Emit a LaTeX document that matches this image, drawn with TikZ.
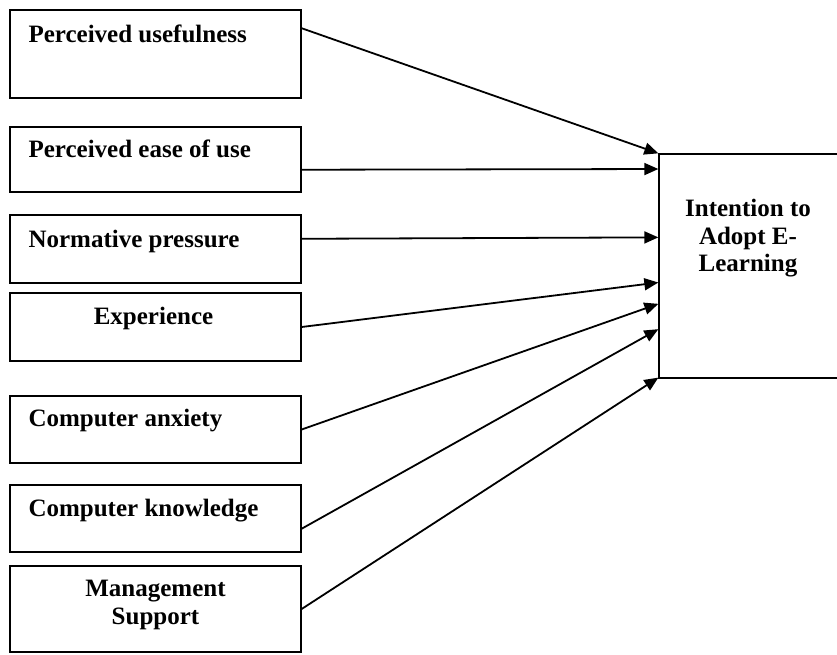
\documentclass[tikz,border=0pt]{standalone}
\usepackage{fontspec}
\setmainfont{Liberation Serif}
\usetikzlibrary{arrows.meta}

\begin{document}
\begin{tikzpicture}[x=1pt,y=-1pt,
    factor/.style ={rectangle, draw, line width=1.3pt, minimum width=291pt, inner sep=0pt},
    caption/.style ={inner sep=0pt, font=\fontsize{25}{27.5}\selectfont\bfseries, align=center},
    link/.style ={line width=1.8pt, -{Triangle[length=14pt,width=12pt]}}]
   \useasboundingbox (0,0) rectangle (837,654);
   \node[factor, minimum height=88pt] (PU) [label={[caption, anchor=base west, xshift=19pt, yshift=-33pt]north west:Perceived usefulness}] at (155.5,54) {};
   \node[factor, minimum height=65pt] (PEOU) [label={[caption, anchor=base west, xshift=19pt, yshift=-31pt]north west:Perceived ease of use}] at (155.5,159.5) {};
   \node[factor, minimum height=68pt] (NP) [label={[caption, anchor=base west, xshift=19pt, yshift=-33pt]north west:Normative pressure}] at (155.5,249) {};
   \node[factor, minimum height=68pt] (EXP) [label={[caption, anchor=base, xshift=-2pt, yshift=-32pt]north:Experience}] at (155.5,327) {};
   \node[factor, minimum height=67pt] (CA) [label={[caption, anchor=base west, xshift=19pt, yshift=-31pt]north west:Computer anxiety}] at (155.5,429.5) {};
   \node[factor, minimum height=67pt] (CK) [label={[caption, anchor=base west, xshift=19pt, yshift=-32pt]north west:Computer knowledge}] at (155.5,518.5) {};
   \node[factor, minimum height=86pt] (MS) [label={[caption, anchor=north, yshift=-15pt]north:Management\\Support}] at (155.5,609) {};
   \node[factor, minimum width=186pt, minimum height=224pt] (IT) [label={[caption, anchor=north, xshift=-4pt, yshift=-46pt]north:Intention to\\Adopt E-\\Learning}] at (752,266) {};
   \draw[link] (PU.10) to (IT.north west);
   \draw[link] (PEOU.-4) to (IT.134);
   \draw[link] (NP.4) to (IT.163);
   \draw[link] (EXP.east) to (IT.190);
   \draw[link] (CA.east) to (IT.202);
   \draw[link] (CK.-4) to (IT.214);
   \draw[link] (MS.east) to (IT.230);
 \end{tikzpicture}
\end{document}
